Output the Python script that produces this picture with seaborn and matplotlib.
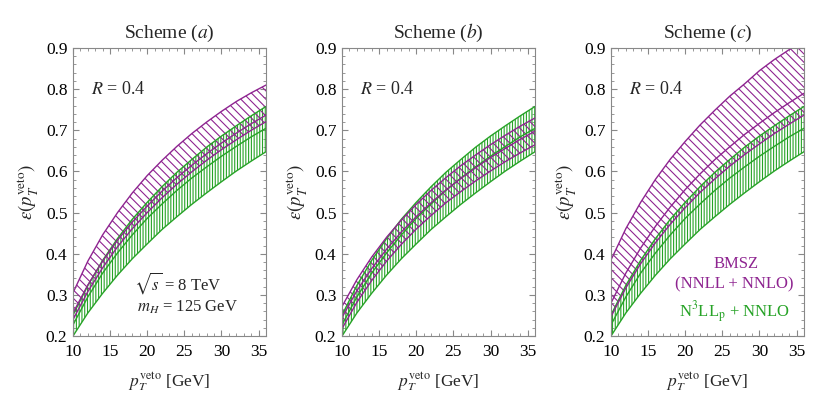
import numpy as np
import pandas as pd
import seaborn as sns
import matplotlib
matplotlib.use("Agg")
import matplotlib.pyplot as plt
from matplotlib.ticker import MultipleLocator

# pT veto grid [GeV]
pt_veto = [10, 12, 14, 16, 18, 20, 22, 24, 26, 28, 30, 32, 34, 36]

# N3LLp + NNLO band (same in every panel)
n3ll_lo = [0.200, 0.256, 0.304, 0.348, 0.388, 0.424, 0.459, 0.490, 0.520, 0.548, 0.575, 0.601, 0.625, 0.648]
n3ll_mid = [0.227, 0.295, 0.353, 0.402, 0.446, 0.486, 0.521, 0.554, 0.584, 0.611, 0.637, 0.661, 0.684, 0.705]
n3ll_hi = [0.251, 0.323, 0.384, 0.437, 0.484, 0.525, 0.563, 0.598, 0.629, 0.659, 0.686, 0.711, 0.735, 0.758]

# BMSZ (NNLL + NNLO), schemes a, b, c
bmsz_a_lo = [0.240, 0.308, 0.366, 0.417, 0.461, 0.500, 0.536, 0.569, 0.599, 0.627, 0.653, 0.677, 0.700, 0.721]
bmsz_a_mid = [0.256, 0.324, 0.382, 0.433, 0.477, 0.516, 0.552, 0.585, 0.615, 0.643, 0.669, 0.693, 0.716, 0.737]
bmsz_a_hi = [0.305, 0.382, 0.446, 0.500, 0.548, 0.590, 0.627, 0.661, 0.692, 0.720, 0.746, 0.770, 0.791, 0.810]

bmsz_b_lo = [0.218, 0.282, 0.335, 0.382, 0.423, 0.460, 0.493, 0.524, 0.551, 0.577, 0.601, 0.624, 0.645, 0.665]
bmsz_b_mid = [0.245, 0.310, 0.364, 0.411, 0.453, 0.490, 0.524, 0.555, 0.583, 0.609, 0.634, 0.656, 0.678, 0.698]
bmsz_b_hi = [0.272, 0.337, 0.392, 0.440, 0.482, 0.520, 0.554, 0.585, 0.614, 0.640, 0.665, 0.688, 0.710, 0.730]

bmsz_c_lo = [0.247, 0.317, 0.376, 0.427, 0.472, 0.512, 0.549, 0.582, 0.613, 0.641, 0.667, 0.692, 0.715, 0.737]
bmsz_c_mid = [0.280, 0.353, 0.414, 0.467, 0.514, 0.556, 0.594, 0.629, 0.660, 0.690, 0.717, 0.743, 0.767, 0.790]
bmsz_c_hi = [0.385, 0.461, 0.525, 0.581, 0.630, 0.673, 0.713, 0.749, 0.783, 0.813, 0.845, 0.872, 0.896, 0.918]

schemes = ["a", "b", "c"]
bmsz = {
    "a": (bmsz_a_lo, bmsz_a_mid, bmsz_a_hi),
    "b": (bmsz_b_lo, bmsz_b_mid, bmsz_b_hi),
    "c": (bmsz_c_lo, bmsz_c_mid, bmsz_c_hi),
}

purple = "#8e2490"
green = "#27a327"

sns.set_style("ticks")
plt.rcParams["font.family"] = ["Liberation Serif", "DejaVu Serif"]
plt.rcParams["mathtext.fontset"] = "stix"
plt.rcParams["hatch.linewidth"] = 0.8

fig = plt.figure(figsize=(8.22, 4.13), dpi=100)
lefts = [0.0888, 0.4161, 0.7433]

for left, sch in zip(lefts, schemes):
    ax = fig.add_axes([left, 0.1864, 0.2348, 0.6973])
    lo, mid, hi = bmsz[sch]

    # hatched bands
    ax.fill_between(pt_veto, n3ll_lo, n3ll_hi, facecolor="none",
                    edgecolor=green, hatch="||||||", linewidth=0)
    ax.fill_between(pt_veto, lo, hi, facecolor="none",
                    edgecolor=purple, hatch="\\\\\\\\", linewidth=0)

    df = pd.DataFrame({
        "pt": pt_veto * 6,
        "eff": n3ll_lo + n3ll_mid + n3ll_hi + list(lo) + list(mid) + list(hi),
        "curve": sum([[c] * len(pt_veto) for c in
                      ["g_lo", "g_mid", "g_hi", "p_lo", "p_mid", "p_hi"]], []),
    })
    pal = {"g_lo": green, "g_mid": green, "g_hi": green,
           "p_lo": purple, "p_mid": purple, "p_hi": purple}
    sns.lineplot(data=df, x="pt", y="eff", hue="curve", palette=pal,
                 linewidth=1.0, legend=False, ax=ax)

    ax.set_xlim(10, 36)
    ax.set_ylim(0.2, 0.9)
    ax.xaxis.set_major_locator(MultipleLocator(5))
    ax.xaxis.set_minor_locator(MultipleLocator(1))
    ax.yaxis.set_major_locator(MultipleLocator(0.1))
    ax.yaxis.set_minor_locator(MultipleLocator(0.02))
    ax.tick_params(which="both", direction="in", top=True, right=True,
                   color="#888888", labelsize=12.5, labelcolor="black")
    ax.tick_params(which="major", length=4, width=0.8)
    ax.tick_params(which="minor", length=2, width=0.6)
    ax.tick_params(axis="x", which="major", pad=6)
    ax.tick_params(axis="y", which="major", pad=4)
    for sp in ax.spines.values():
        sp.set_color("#888888")
        sp.set_linewidth(0.8)

    ax.set_xlabel(r"$p_T^{\rm veto}$ [GeV]", fontsize=12.5, labelpad=7)
    ax.set_ylabel(r"$\epsilon(p_T^{\rm veto})$", fontsize=13.5, labelpad=4)
    ax.set_title(r"Scheme ($%s$)" % sch, fontsize=14, pad=7)

    ax.text(12.4, 0.80, r"$R$ = 0.4", fontsize=13, va="center", ha="left")

    if sch == "a":
        ax.text(18.2, 0.328, r"$\sqrt{s}$ = 8 TeV", fontsize=12,
                va="center", ha="left")
        ax.text(18.6, 0.270, r"$m_H$ = 125 GeV", fontsize=12,
                va="center", ha="left")
    if sch == "c":
        ax.text(26.9, 0.374, "BMSZ", color=purple, fontsize=12,
                va="center", ha="center")
        ax.text(26.6, 0.326, "(NNLL + NNLO)", color=purple, fontsize=12,
                va="center", ha="center")
        ax.text(26.6, 0.258, r"N$^3$LL$_{\rm p}$ + NNLO", color=green,
                fontsize=12, va="center", ha="center")

fig.savefig("out.png", dpi=100)
